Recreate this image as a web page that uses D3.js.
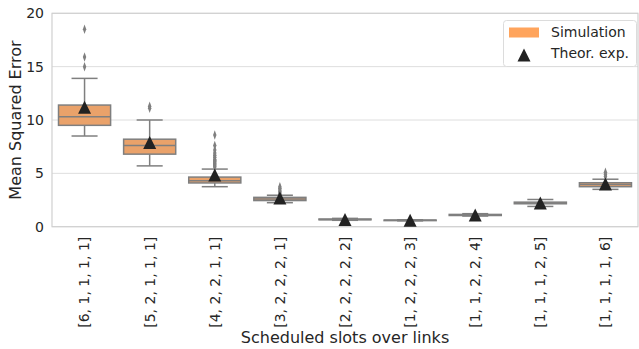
<!DOCTYPE html>
<html><head><meta charset="utf-8">
<script src="https://cdn.jsdelivr.net/npm/d3@7"></script>
<style>body{margin:0;background:#fff}svg{display:block;font-family:"DejaVu Sans",sans-serif}</style>
</head><body><svg id="c" width="639" height="349"></svg>
<script>
const categories = ["[6, 1, 1, 1, 1]","[5, 2, 1, 1, 1]","[4, 2, 2, 1, 1]","[3, 2, 2, 2, 1]","[2, 2, 2, 2, 2]","[1, 2, 2, 2, 3]","[1, 1, 2, 2, 4]","[1, 1, 1, 2, 5]","[1, 1, 1, 1, 6]"];
const whiskerLow  = [8.5, 5.7, 3.75, 2.25, 0.6, 0.55, 1.0, 1.9, 3.5];
const q1          = [9.5, 6.8, 4.1, 2.45, 0.65, 0.57, 1.05, 2.15, 3.75];
const median      = [10.3, 7.6, 4.3, 2.6, 0.68, 0.6, 1.1, 2.22, 3.95];
const q3          = [11.4, 8.2, 4.65, 2.75, 0.72, 0.62, 1.15, 2.3, 4.12];
const whiskerHigh = [13.9, 10.0, 5.4, 2.95, 0.78, 0.65, 1.22, 2.55, 4.45];
const outliers = [
  [15.0, 15.9, 18.5],
  [11.1, 11.3],
  [5.6, 5.7, 5.8, 5.9, 6.0, 6.1, 6.2, 6.3, 6.5, 6.7, 6.9, 7.2, 7.6, 8.6],
  [3.05, 3.15, 3.3, 3.45, 3.6, 3.75],
  [], [], [], [],
  [4.7, 4.9, 5.1]
];
const theorExp = [11.2, 7.9, 4.85, 2.7, 0.67, 0.6, 1.1, 2.22, 4.0];
const yTicks = [0, 5, 10, 15, 20];

const svg = d3.select("#c");
const L = 52, R = 638, T = 13.3, B = 226.7;
const x = d3.scaleBand().domain(categories).range([L, R]).padding(0);
const y = d3.scaleLinear().domain([0, 20]).range([B, T]);
const bw = x.bandwidth() * 0.8;
const boxFill = "#eaa26a", edge = "#7f7f7f";

// grid
svg.append("g").selectAll("line").data(yTicks).join("line")
  .attr("x1", L).attr("x2", R).attr("y1", d => y(d)).attr("y2", d => y(d))
  .attr("stroke", "#dedede").attr("stroke-width", 1);
// spines
svg.append("rect").attr("x", L).attr("y", T).attr("width", R - L).attr("height", B - T)
  .attr("fill", "none").attr("stroke", "#d0d0d0").attr("stroke-width", 1.2);

// y axis
const yAxis = svg.append("g").attr("transform", `translate(${L},0)`)
  .call(d3.axisLeft(y).tickValues(yTicks).tickSize(0).tickPadding(8).tickFormat(d3.format("d")));
yAxis.select(".domain").remove();
yAxis.selectAll("text").attr("font-size", 14).attr("fill", "#262626").attr("font-family", "DejaVu Sans");

// x axis
const xAxis = svg.append("g").attr("transform", `translate(0,${B})`)
  .call(d3.axisBottom(x).tickSize(0));
xAxis.select(".domain").remove();
xAxis.selectAll("text").attr("font-size", 14).attr("fill", "#262626").attr("font-family", "DejaVu Sans")
  .attr("text-anchor", "end").attr("transform", "rotate(-90)")
  .attr("x", -10).attr("y", 0).attr("dy", "0.35em");

// boxes
const g = svg.append("g");
categories.forEach((c, i) => {
  const cx = x(c) + x.bandwidth() / 2;
  const gi = g.append("g");
  gi.append("line").attr("x1", cx).attr("x2", cx).attr("y1", y(q3[i])).attr("y2", y(whiskerHigh[i])).attr("stroke", edge).attr("stroke-width", 1.5);
  gi.append("line").attr("x1", cx).attr("x2", cx).attr("y1", y(q1[i])).attr("y2", y(whiskerLow[i])).attr("stroke", edge).attr("stroke-width", 1.5);
  [whiskerHigh[i], whiskerLow[i]].forEach(v => gi.append("line").attr("x1", cx - bw / 4).attr("x2", cx + bw / 4)
    .attr("y1", y(v)).attr("y2", y(v)).attr("stroke", edge).attr("stroke-width", 1.5));
  gi.append("rect").attr("x", cx - bw / 2).attr("width", bw).attr("y", y(q3[i]))
    .attr("height", Math.max(0.5, y(q1[i]) - y(q3[i]))).attr("fill", boxFill).attr("stroke", edge).attr("stroke-width", 1.5);
  gi.append("line").attr("x1", cx - bw / 2).attr("x2", cx + bw / 2).attr("y1", y(median[i])).attr("y2", y(median[i]))
    .attr("stroke", edge).attr("stroke-width", 1.5);
  gi.selectAll("path.o").data(outliers[i]).join("path").attr("class", "o")
    .attr("d", d3.symbol(d3.symbolDiamond, 18)())
    .attr("transform", d => `translate(${cx},${y(d)}) scale(0.75,1.2)`)
    .attr("fill", edge);
});

// triangles
const tri = "M0,-6.5L6.5,6.5L-6.5,6.5Z";
svg.append("g").selectAll("path").data(categories).join("path")
  .attr("d", tri)
  .attr("transform", (c, i) => `translate(${x(c) + x.bandwidth() / 2},${y(theorExp[i])})`)
  .attr("fill", "#222222");

// axis labels
svg.append("text").attr("x", (L + R) / 2).attr("y", 343).attr("text-anchor", "middle")
  .attr("font-size", 16).attr("fill", "#262626").text("Scheduled slots over links");
svg.append("text").attr("transform", `translate(21,${(T + B) / 2}) rotate(-90)`).attr("text-anchor", "middle")
  .attr("font-size", 16).attr("fill", "#262626").text("Mean Squared Error");

// legend
const lg = svg.append("g");
lg.append("rect").attr("x", 503.5).attr("y", 20.5).attr("width", 133).attr("height", 46).attr("rx", 3)
  .attr("fill", "#fff").attr("fill-opacity", 0.8).attr("stroke", "#dcdcdc");
lg.append("rect").attr("x", 509).attr("y", 27.5).attr("width", 30).attr("height", 10).attr("fill", "#ffa45c");
lg.append("text").attr("x", 551).attr("y", 37).attr("font-size", 14).attr("fill", "#262626").text("Simulation");
lg.append("path").attr("d", tri).attr("transform", "translate(524,55)").attr("fill", "#222222");
lg.append("text").attr("x", 551).attr("y", 58).attr("font-size", 14).attr("fill", "#262626").text("Theor. exp.");
</script></body></html>
